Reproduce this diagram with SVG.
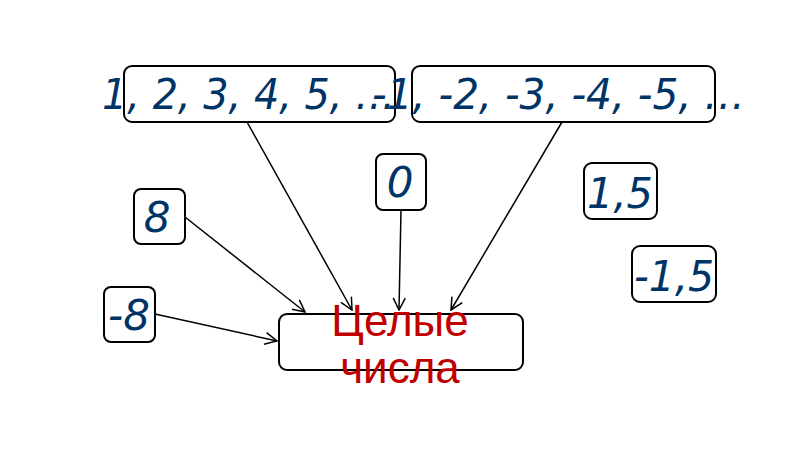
<svg xmlns="http://www.w3.org/2000/svg" width="800" height="450" viewBox="0 0 800 450">
<style>
.box{fill:#fff;stroke:#000;stroke-width:2}
.num{font-family:"DejaVu Sans",sans-serif;font-style:italic;font-size:42px;fill:#003366}
.main{font-family:"Liberation Sans",Arial,sans-serif;font-size:44px;fill:#C00000;text-anchor:middle}
.conn{stroke:#000;stroke-width:1.5;fill:none;marker-end:url(#arr)}
</style>
<defs>
<marker id="arr" viewBox="0 0 14 14" refX="13" refY="7" markerWidth="14" markerHeight="14" markerUnits="userSpaceOnUse" orient="auto">
<path d="M1,1 L13,7 L1,13" fill="none" stroke="#000" stroke-width="1.5"/>
</marker>
</defs>
<rect width="800" height="450" fill="#fff"/>
<g id="connectors">
<line class="conn" x1="247" y1="122" x2="352" y2="310"/>
<line class="conn" x1="562" y1="122" x2="451" y2="310"/>
<line class="conn" x1="401" y1="210" x2="399" y2="310"/>
<line class="conn" x1="185" y1="217" x2="305" y2="312"/>
<line class="conn" x1="155" y1="314" x2="277" y2="341"/>
</g>
<g id="n-main">
<rect class="box" x="279" y="314" width="244" height="56" rx="8"/>
<text class="main" x="400" y="336">Целые</text>
<text class="main" x="400" y="383">числа</text>
</g>
<g id="n-pos">
<rect class="box" x="124" y="66" width="271" height="56" rx="8"/>
<text class="num" x="102" y="109" textLength="293" lengthAdjust="spacingAndGlyphs">1, 2, 3, 4, 5, …</text>
</g>
<g id="n-neg">
<rect class="box" x="412" y="66" width="303" height="56" rx="8"/>
<text class="num" x="372" y="109" textLength="373" lengthAdjust="spacingAndGlyphs">-1, -2, -3, -4, -5, …</text>
</g>
<g id="n-zero">
<rect class="box" x="376" y="154" width="50" height="56" rx="7"/>
<text class="num" x="400" y="197" text-anchor="middle">0</text>
</g>
<g id="n-8">
<rect class="box" x="134" y="189" width="51" height="55" rx="7"/>
<text class="num" x="157" y="232" text-anchor="middle">8</text>
</g>
<g id="n-m8">
<rect class="box" x="104" y="287" width="51" height="55" rx="7"/>
<text class="num" x="129" y="330" text-anchor="middle">-8</text>
</g>
<g id="n-15">
<rect class="box" x="584" y="163" width="73" height="56" rx="8"/>
<text class="num" x="620" y="208" text-anchor="middle" textLength="66" lengthAdjust="spacingAndGlyphs">1,5</text>
</g>
<g id="n-m15">
<rect class="box" x="632" y="246" width="84" height="56" rx="8"/>
<text class="num" x="674" y="291" text-anchor="middle" textLength="80" lengthAdjust="spacingAndGlyphs">-1,5</text>
</g>
</svg>
